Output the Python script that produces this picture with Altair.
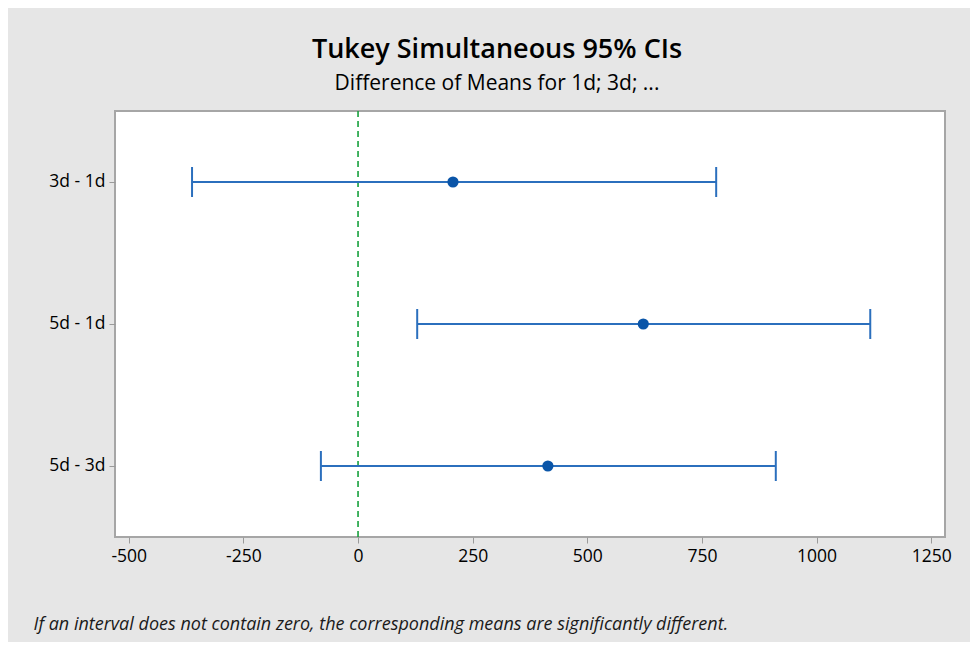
import altair as alt
import pandas as pd

# Data
comparisons = ["3d - 1d", "5d - 1d", "5d - 3d"]
diff_means = [207, 622, 414]
lower_ci = [-362, 129, -81]
upper_ci = [781, 1117, 911]
x_ticks = [-500, -250, 0, 250, 500, 750, 1000, 1250]
zero_line = [0]

df = pd.DataFrame({
    "comparison": comparisons,
    "diff": diff_means,
    "lower": lower_ci,
    "upper": upper_ci,
})
zero_df = pd.DataFrame({"x": zero_line})

FONT = "Open Sans"
BLUE = "#2b6fbd"
DOT = "#0a55a8"
GREEN = "#16a03c"

x_scale = alt.Scale(domain=[-530, 1280], nice=False, zero=False)
x_axis = alt.Axis(
    values=x_ticks,
    labelExpr="'' + datum.value",
    title="If an interval does not contain zero, the corresponding means are significantly different.",
    titleFontStyle="italic",
    titleFontWeight="normal",
    titleFontSize=18,
    titleColor="#1a1a1a",
    titleFont=FONT,
    titleAnchor="start",
    titleAlign="left",
    titleBaseline="alphabetic",
    titleX=-82,
    titleY=92,
    titleAngle=0,
)
y_enc = alt.Y("comparison:N", sort=comparisons,
              axis=alt.Axis(title=None))

base = alt.Chart(df)

zero_rule = alt.Chart(zero_df).mark_rule(
    color=GREEN, strokeDash=[6, 4], strokeWidth=1.6
).encode(x=alt.X("x:Q", scale=x_scale, axis=x_axis))

interval = base.mark_rule(color=BLUE, strokeWidth=2).encode(
    x=alt.X("lower:Q", scale=x_scale, axis=x_axis),
    x2="upper:Q",
    y=y_enc,
)
cap_lo = base.mark_tick(color=BLUE, thickness=2, size=30, orient="vertical", opacity=1).encode(
    x=alt.X("lower:Q", scale=x_scale, axis=x_axis), y=y_enc)
cap_hi = base.mark_tick(color=BLUE, thickness=2, size=30, orient="vertical", opacity=1).encode(
    x=alt.X("upper:Q", scale=x_scale, axis=x_axis), y=y_enc)
points = base.mark_circle(color=DOT, size=125, opacity=1).encode(
    x=alt.X("diff:Q", scale=x_scale, axis=x_axis), y=y_enc)

chart = alt.layer(zero_rule, interval, cap_lo, cap_hi, points).properties(
    width=830,
    height=426,
    autosize=alt.AutoSizeParams(type="none"),
    padding={"left": 107, "top": 103, "right": 25, "bottom": 105},
    background="#e6e6e6",
    title=alt.TitleParams(
        text="Tukey Simultaneous 95% CIs",
        subtitle="Difference of Means for 1d; 3d; ...",
        font=FONT,
        subtitleFont=FONT,
        fontSize=27,
        fontWeight=600,
        subtitleFontSize=21,
        subtitleFontWeight="normal",
        color="#000000",
        subtitleColor="#000000",
        anchor="middle",
        dx=-33,
        offset=15,
        subtitlePadding=9,
    ),
).configure_view(
    stroke="#a6a6a6", strokeWidth=2, fill="white"
).configure_axis(
    domain=False,
    grid=False,
    tickColor="#9a9a9a",
    tickSize=6,
    tickWidth=1,
    labelFont=FONT,
    labelFontSize=17.5,
    labelColor="#000000",
    labelPadding=4,
)

chart.save("out.html", embed_options={"renderer": "svg", "actions": False})
